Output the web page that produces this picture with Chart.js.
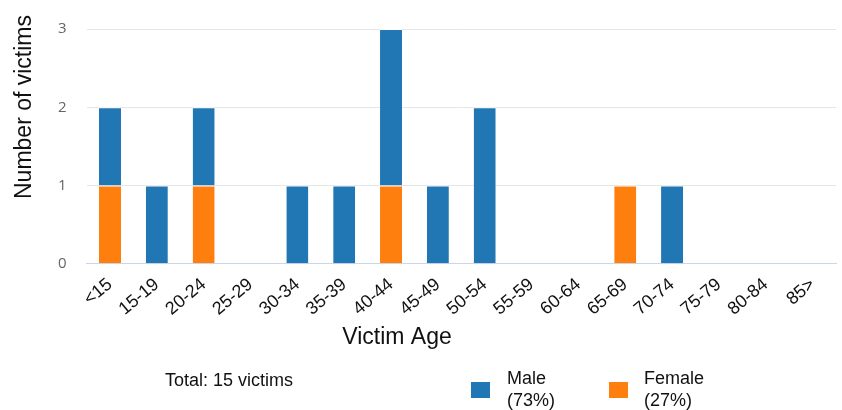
<!DOCTYPE html>
<html>
<head>
<meta charset="utf-8">
<script src="https://cdn.jsdelivr.net/npm/chart.js@4"></script>
<style>
  html, body { margin: 0; padding: 0; background: #fff; }
  #wrap { width: 842px; height: 410px; }
</style>
</head>
<body>
<div id="wrap"><canvas id="ages" width="842" height="410"></canvas></div>
<script>
// age groups along the x axis
const ageGroups = ['<15', '15-19', '20-24', '25-29', '30-34', '35-39', '40-44', '45-49',
                   '50-54', '55-59', '60-64', '65-69', '70-74', '75-79', '80-84', '85>'];
const female = [1, 0, 1, 0, 0, 0, 1, 0, 0, 0, 0, 1, 0, 0, 0, 0];
const male   = [1, 1, 1, 0, 1, 1, 2, 1, 2, 0, 0, 0, 1, 0, 0, 0];
const yTicks = [0, 1, 2, 3];

const BLUE = '#2177b4';
const ORANGE = '#ff7f0e';
const FONT = '"Liberation Sans", Arial, sans-serif';

function sum(arr) { return arr.reduce((a, b) => a + b, 0); }
const total = sum(male) + sum(female);
const pct = v => Math.round(100 * v / total) + '%';

// axis titles, "Total" text and the two-line legend
const extras = {
    id: 'extras',
    afterDraw(chart) {
        const ctx = chart.ctx;
        ctx.save();
        ctx.fillStyle = '#111';
        ctx.textBaseline = 'middle';

        ctx.font = '23px ' + FONT;
        ctx.textAlign = 'center';
        ctx.fillText('Victim Age', 397, 338);
        ctx.save();
        ctx.translate(25, 107);
        ctx.rotate(-Math.PI / 2);
        ctx.fillText('Number of victims', 0, 0);
        ctx.restore();

        ctx.textAlign = 'left';
        ctx.font = '18px ' + FONT;
        ctx.fillText('Total: ' + total + ' victims', 165, 381);

        const items = [
            { name: 'Male', share: pct(sum(male)), color: BLUE, x: 471, tx: 507 },
            { name: 'Female', share: pct(sum(female)), color: ORANGE, x: 609, tx: 644 }
        ];
        items.forEach(it => {
            ctx.fillStyle = it.color;
            ctx.fillRect(it.x, 382, 19, 16);
            ctx.fillStyle = '#111';
            ctx.fillText(it.name, it.tx, 379);
            ctx.fillText('(' + it.share + ')', it.tx, 401);
        });
        ctx.restore();
    }
};

const ctx = document.getElementById('ages').getContext('2d');
new Chart(ctx, {
    type: 'bar',
    data: {
        labels: ageGroups,
        datasets: [
            {
                label: 'Female',
                data: female,
                backgroundColor: ORANGE,
                borderColor: '#ffffff',
                borderWidth: { top: 1, left: 0, right: 0, bottom: 0 },
                borderSkipped: false
            },
            {
                label: 'Male',
                data: male,
                backgroundColor: BLUE,
                borderColor: '#ffffff',
                borderWidth: { top: 1, left: 0, right: 0, bottom: 0 },
                borderSkipped: false
            }
        ]
    },
    options: {
        responsive: false,
        animation: false,
        layout: { padding: { left: 38, right: 6, top: 25, bottom: 88 } },
        plugins: {
            legend: { display: false },
            tooltip: { enabled: false }
        },
        datasets: {
            bar: { categoryPercentage: 1.0, barPercentage: 0.47 }
        },
        scales: {
            x: {
                stacked: true,
                grid: { display: false },
                border: { color: '#ccd6eb' },
                ticks: {
                    color: '#111',
                    font: { family: FONT, size: 18 },
                    minRotation: 40,
                    maxRotation: 40,
                    padding: 2,
                    autoSkip: false
                }
            },
            y: {
                stacked: true,
                min: 0,
                max: 3,
                afterBuildTicks: axis => { axis.ticks = yTicks.map(v => ({ value: v })); },
                grid: { color: '#e6e6e6', drawTicks: false },
                border: { display: false },
                ticks: {
                    color: '#666',
                    font: { family: '"Open Sans", sans-serif', size: 15 },
                    padding: 20
                }
            }
        }
    },
    plugins: [extras]
});
</script>
</body>
</html>
